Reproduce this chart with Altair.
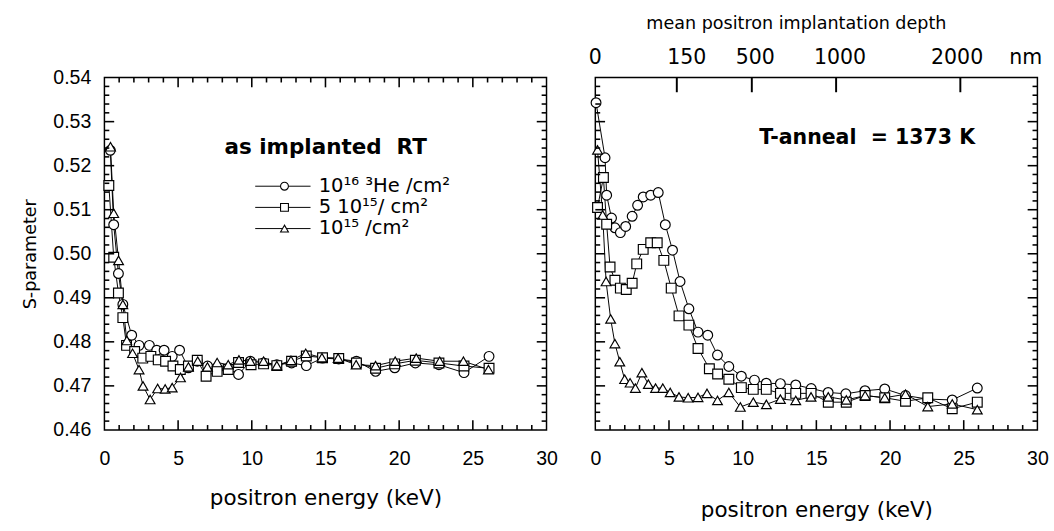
import altair as alt
import pandas as pd

# ---------------- data ----------------
SERIES = ["1e16", "5e15", "1e15"]
SHAPES = ["circle", "square", "triangle-up"]

L_circ_E = [0.4, 0.63, 0.95, 1.25, 1.85, 2.35, 3.05, 3.55, 4.05, 4.6, 5.1, 5.7, 6.3, 7.0, 7.65, 8.4, 9.1, 9.9,
            10.8, 11.7, 12.7, 13.7, 14.8, 15.9, 17.1, 18.4, 19.7, 21.1, 22.7, 24.4, 26.1]
L_circ_S = [0.5235, 0.5066, 0.4955, 0.4885, 0.4815, 0.4792, 0.4792, 0.4781, 0.4781, 0.4767, 0.4781, 0.4741,
            0.4756, 0.4745, 0.4737, 0.4740, 0.4726, 0.4756, 0.4752, 0.4748, 0.4752, 0.4746, 0.4763, 0.4761,
            0.4756, 0.4733, 0.4741, 0.4752, 0.4748, 0.4730, 0.4767]
L_sq_E = [0.3, 0.63, 0.95, 1.25, 1.5, 2.05, 2.6, 3.15, 3.65, 4.15, 4.65, 5.15, 5.7, 6.3, 6.9, 7.65, 8.4, 9.1,
          9.95, 10.8, 11.7, 12.7, 13.7, 14.8, 15.9, 17.1, 18.4, 19.7, 21.1, 22.7, 24.4, 26.1]
L_sq_S = [0.5155, 0.4992, 0.4911, 0.4855, 0.4792, 0.4778, 0.4763, 0.4767, 0.4759, 0.4756, 0.4745, 0.4737,
          0.4745, 0.4758, 0.4722, 0.4733, 0.4737, 0.4753, 0.4748, 0.4750, 0.4746, 0.4756, 0.4768, 0.4764,
          0.4762, 0.4752, 0.4740, 0.4750, 0.4758, 0.4752, 0.4745, 0.4740]
L_tri_E = [0.41, 0.63, 0.96, 1.25, 1.52, 1.91, 2.35, 2.62, 3.1, 3.61, 4.12, 4.6, 5.16, 5.7, 6.33, 6.99, 7.65,
           8.4, 9.13, 9.9, 10.8, 11.7, 12.66, 13.66, 14.76, 15.86, 17.08, 18.4, 19.73, 21.16, 22.75, 24.36, 26.06]
L_tri_S = [0.5243, 0.5092, 0.4985, 0.4885, 0.4803, 0.4774, 0.4737, 0.4700, 0.4669, 0.4694, 0.4693, 0.4696,
           0.4719, 0.4743, 0.4756, 0.4743, 0.4753, 0.4748, 0.4759, 0.4756, 0.4756, 0.4746, 0.4758, 0.4774,
           0.4764, 0.4763, 0.4748, 0.4746, 0.4756, 0.4763, 0.4756, 0.4756, 0.4737]

R_circ_E = [0.05, 0.66, 0.77, 1.1, 1.33, 1.7, 2.06, 2.5, 2.87, 3.25, 3.76, 4.27, 4.75, 5.24, 5.75, 6.35, 6.97,
            7.63, 8.29, 9.06, 9.91, 10.8, 11.6, 12.56, 13.6, 14.65, 15.8, 17.0, 18.3, 19.64, 21.05, 22.56,
            24.22, 25.92]
R_circ_S = [0.5343, 0.5218, 0.5133, 0.5081, 0.5059, 0.5048, 0.5062, 0.5085, 0.5110, 0.5129, 0.5133, 0.5139,
            0.5066, 0.5008, 0.4937, 0.4875, 0.4822, 0.4815, 0.4770, 0.4744, 0.4722, 0.4713, 0.4706, 0.4705,
            0.4702, 0.4694, 0.4685, 0.4682, 0.4689, 0.4693, 0.4678, 0.4670, 0.4668, 0.4695]
R_sq_E = [0.15, 0.55, 0.77, 1.0, 1.33, 1.7, 2.1, 2.5, 2.81, 3.25, 3.76, 4.2, 4.65, 5.15, 5.68, 6.35, 6.97, 7.74,
          8.3, 9.06, 9.91, 10.72, 11.6, 12.56, 13.6, 14.64, 15.81, 17.03, 18.31, 19.64, 21.05, 22.56, 24.22,
          25.92]
R_sq_S = [0.5105, 0.5173, 0.5067, 0.4970, 0.4940, 0.4922, 0.4919, 0.4933, 0.4977, 0.5010, 0.5025, 0.5025,
          0.4985, 0.4922, 0.4859, 0.4838, 0.4785, 0.4739, 0.4727, 0.4715, 0.4696, 0.4692, 0.4692, 0.4683,
          0.4683, 0.4683, 0.4663, 0.4663, 0.4678, 0.4673, 0.4665, 0.4673, 0.4648, 0.4663]
R_tri_E = [0.15, 0.5, 0.73, 1.04, 1.33, 1.66, 1.99, 2.36, 2.72, 3.16, 3.6, 4.09, 4.58, 5.08, 5.68, 6.3, 6.97,
           7.58, 8.29, 9.06, 9.84, 10.72, 11.61, 12.56, 13.6, 14.64, 15.81, 17.03, 18.31, 19.64, 21.05, 22.56,
           24.22, 25.92]
R_tri_S = [0.5236, 0.5088, 0.4937, 0.4852, 0.4796, 0.4755, 0.4715, 0.4707, 0.4695, 0.4730, 0.4704, 0.4695,
           0.4695, 0.4685, 0.4675, 0.4673, 0.4674, 0.4683, 0.4667, 0.4685, 0.4652, 0.4663, 0.4658, 0.4670,
           0.4667, 0.4675, 0.4675, 0.4668, 0.4678, 0.4673, 0.4681, 0.4653, 0.4659, 0.4646]

LEGEND_LABELS = ["10\u00b9\u2076 \u00b3He /cm\u00b2", "5 10\u00b9\u2075/ cm\u00b2", "10\u00b9\u2075 /cm\u00b2"]
LEFT_NOTE = "as implanted\u00a0 RT"
RIGHT_NOTE = "T-anneal\u00a0 = 1373 K"
TOP_TITLE = "mean positron implantation depth"

X_DOMAIN = [0.0, 30.0]
Y_DOMAIN = [0.46, 0.54]
X_MAJOR = [0, 5, 10, 15, 20, 25, 30]
X_MINOR = [v for v in range(0, 31) if v % 5]
Y_MAJOR = [0.46, 0.47, 0.48, 0.49, 0.50, 0.51, 0.52, 0.53, 0.54]
Y_MINOR = [round(0.46 + 0.002 * i, 3) for i in range(41) if i % 5]

DEPTH_TICK_KEV = [5.53, 10.62, 16.34, 24.77]
DEPTH_LABELS = ["0", "150", "500", "1000", "2000", "nm"]
DEPTH_LABEL_KEV = [0.0, 6.2, 10.85, 16.6, 24.55, 29.2]

# ---------------- layout / style ----------------
W, H = 453, 361
FONT_NUM = "Liberation Sans, Arial, Helvetica, sans-serif"
FONT_TXT = "DejaVu Sans, Verdana, sans-serif"
XS = alt.Scale(domain=X_DOMAIN, nice=False, zero=False)
YS = alt.Scale(domain=Y_DOMAIN, nice=False, zero=False)


def E_at(px):  # pixel offset inside a panel -> keV (inverse of the x scale)
    return X_DOMAIN[0] + px / W * (X_DOMAIN[1] - X_DOMAIN[0])


def S_at(py):  # pixel offset from panel top -> S (inverse of the y scale)
    return Y_DOMAIN[1] - py / H * (Y_DOMAIN[1] - Y_DOMAIN[0])


def frame(E_lists, S_lists):
    rows = []
    for name, Es, Ss in zip(SERIES, E_lists, S_lists):
        for e, s in zip(Es, Ss):
            rows.append({"E": float(e), "S": float(s), "series": name})
    return pd.DataFrame(rows)


def axes(left):
    xa = alt.Axis(values=X_MAJOR, format="d", title="positron energy (keV)", labelFlush=False,
                  labelPadding=19, titleY=69.5 if left else 82, titleBaseline="middle",
                  titleFont=FONT_TXT, titleFontSize=22)
    if left:
        ya = alt.Axis(values=Y_MAJOR, format=".2f", title="S-parameter", labelFlush=False,
                      labelPadding=14, titleX=-76, titleY=H / 2, titleBaseline="middle",
                      titleFont=FONT_TXT, titleFontSize=18)
    else:
        ya = alt.Axis(values=Y_MAJOR, labels=False, title="")
    return xa, ya


def panel(E_lists, S_lists, left):
    xa, ya = axes(left)

    def X(f):
        return alt.X(f, scale=XS, axis=xa)

    def Y(f):
        return alt.Y(f, scale=YS, axis=ya)

    df = frame(E_lists, S_lists)
    layers = [
        alt.Chart(df).mark_line(color="black", strokeWidth=1).encode(
            x=X("E:Q"), y=Y("S:Q"), detail="series:N"),
        alt.Chart(df).mark_point(filled=True, fill="white", stroke="black", strokeWidth=1.2,
                                 size=100, opacity=1).encode(
            x=X("E:Q"), y=Y("S:Q"),
            shape=alt.Shape("series:N", scale=alt.Scale(domain=SERIES, range=SHAPES), legend=None)),
    ]

    def xticks(vals, edge, tip, width=1.6):
        d = pd.DataFrame({"tv": [float(v) for v in vals], "ta": [float(edge)] * len(vals),
                          "tb": [float(tip)] * len(vals)})
        return alt.Chart(d).mark_rule(color="black", strokeWidth=width, opacity=1).encode(
            x=X("tv:Q"), y=Y("ta:Q"), y2="tb:Q")

    def yticks(vals, edge, tip):
        d = pd.DataFrame({"tv": [float(v) for v in vals], "ta": [float(edge)] * len(vals),
                          "tb": [float(tip)] * len(vals)})
        return alt.Chart(d).mark_rule(color="black", strokeWidth=1.6, opacity=1).encode(
            y=Y("tv:Q"), x=X("ta:Q"), x2="tb:Q")

    layers += [xticks(X_MAJOR[1:-1], Y_DOMAIN[0], S_at(H - 10)),
               xticks(X_MINOR, Y_DOMAIN[0], S_at(H - 5))]
    if left:
        layers += [xticks(X_MAJOR[1:-1], Y_DOMAIN[1], S_at(10)),
                   xticks(X_MINOR, Y_DOMAIN[1], S_at(5))]
    else:
        layers.append(xticks(DEPTH_TICK_KEV, Y_DOMAIN[1], S_at(15), width=2.0))
    layers += [yticks(Y_MAJOR[1:-1], X_DOMAIN[0], E_at(10)), yticks(Y_MINOR, X_DOMAIN[0], E_at(5)),
               yticks(Y_MAJOR[1:-1], X_DOMAIN[1], E_at(W - 10)), yticks(Y_MINOR, X_DOMAIN[1], E_at(W - 5))]

    def text(d, size, bold=False, align="left", font=FONT_TXT):
        return alt.Chart(d).mark_text(
            align=align, baseline="middle", font=font, fontSize=size,
            fontWeight="bold" if bold else "normal", color="black").encode(
            x=X("x:Q"), y=Y("y:Q"), text="t:N")

    def note(t, px, py, size, bold=False, align="left"):
        return text(pd.DataFrame({"t": [t], "x": [E_at(px)], "y": [S_at(py)]}), size, bold, align)

    if left:
        layers.append(note(LEFT_NOTE, 123, 71, 22, bold=True))
        for i, (lab, shp) in enumerate(zip(LEGEND_LABELS, SHAPES)):
            yy = 111.3 + 21.7 * i
            d = pd.DataFrame({"x": [E_at(154.5)], "x2": [E_at(211.2)], "xm": [E_at(184.5)],
                              "y": [S_at(yy)]})
            layers.append(alt.Chart(d).mark_rule(color="black", strokeWidth=1).encode(
                x=X("x:Q"), x2="x2:Q", y=Y("y:Q")))
            layers.append(alt.Chart(d).mark_point(
                filled=True, fill="white", stroke="black", strokeWidth=1.1, size=65, opacity=1,
                shape=shp).encode(x=X("xm:Q"), y=Y("y:Q")))
            layers.append(note(lab, 219.5, yy, 20))
    else:
        dl = pd.DataFrame({"x": DEPTH_LABEL_KEV, "t": DEPTH_LABELS,
                           "y": [S_at(-20)] * len(DEPTH_LABELS)})
        layers.append(text(dl, 21, align="center"))
        layers.append(note(TOP_TITLE, 206, -55, 18, align="center"))
        layers.append(note(RIGHT_NOTE, 168, 62, 21, bold=True))

    return alt.layer(*layers).properties(width=W, height=H)


left = panel([L_circ_E, L_sq_E, L_tri_E], [L_circ_S, L_sq_S, L_tri_S], True)
right = panel([R_circ_E, R_sq_E, R_tri_E], [R_circ_S, R_sq_S, R_tri_S], False)

chart = alt.hconcat(left, right, spacing=30).properties(
    padding={"left": 21, "top": 8, "right": 5, "bottom": 0},
    background="white",
).configure_view(stroke="black", strokeWidth=1.5).configure_axis(
    labelFont=FONT_NUM, titleFont=FONT_TXT, labelFontSize=20, labelColor="black", titleColor="black",
    titleFontWeight="normal", domain=False, ticks=False, tickSize=0, grid=False,
)

chart.save("out.html", embed_options={"renderer": "svg", "actions": False})
